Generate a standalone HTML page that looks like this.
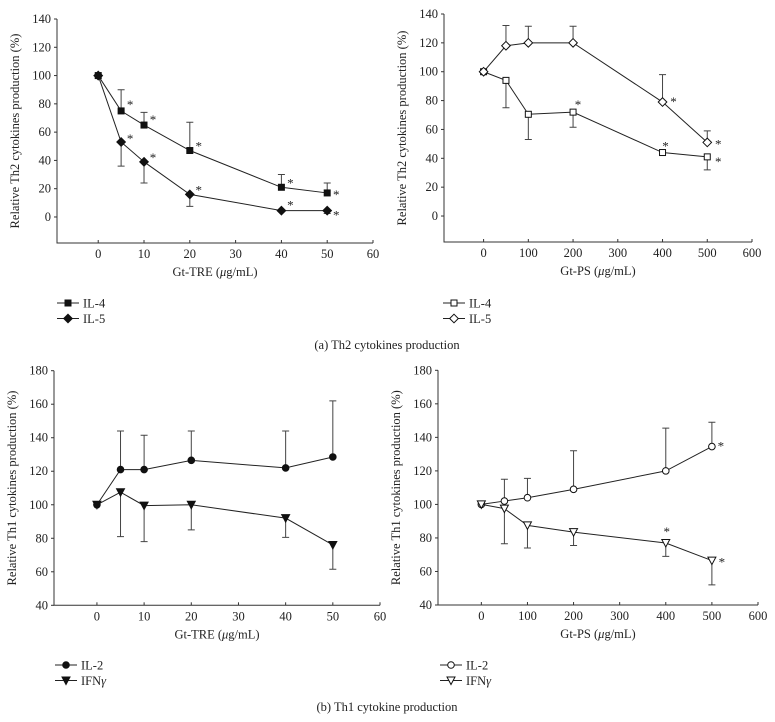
<!DOCTYPE html>
<html><head><meta charset="utf-8"><style>
body{margin:0;background:#fff}
svg{display:block;font-family:"Liberation Serif",serif}
</style></head><body>
<svg id="c" width="775" height="722" xmlns="http://www.w3.org/2000/svg"></svg>
<script>
const xTRE=[0,5,10,20,40,50];
const xPS=[0,50,100,200,400,500];
const a1IL4=[100,75,65,47,21,17];
const a1IL4Err=[null,90,74,67,30,24];
const a1IL5=[100,53,39,16,4.5,4.5];
const a1IL5Err=[null,36,24,7.5,null,2.5];
const a2IL4=[100,94,70.5,72,44,41];
const a2IL4Err=[null,75,53,61.5,null,32];
const a2IL5=[100,118,120,120,79,51];
const a2IL5Err=[null,132,131.5,131.5,98,59];
const b1IL2=[100,121,121,126.5,122,128.5];
const b1IL2Err=[null,144,141.5,144,144,162];
const b1IFN=[100,107.5,99.5,100,92,76];
const b1IFNErr=[null,81,78,85,80.5,61.5];
const b2IL2=[100,102,104,109,120,134.5];
const b2IL2Err=[null,115,115.5,132,145.5,149];
const b2IFN=[100,97.5,87.5,83.5,77,66.5];
const b2IFNErr=[null,76.5,74,75.5,69,52];
const ticksTRE=[0,10,20,30,40,50,60];
const ticksPS=[0,100,200,300,400,500,600];
const yTicksA=[0,20,40,60,80,100,120,140];
const yTicksB=[40,60,80,100,120,140,160,180];
const a1IL4Star=[0,1,1,1,1,1], a1IL5Star=[0,1,1,1,1,1];
const a2IL4Star=[0,0,0,1,1,1], a2IL5Star=[0,0,0,0,1,1];
const b1IL2Star=[0,0,0,0,0,0], b1IFNStar=[0,0,0,0,0,0];
const b2IL2Star=[0,0,0,0,0,1], b2IFNStar=[0,0,0,0,1,1];

const svg=document.getElementById('c');
const NS='http://www.w3.org/2000/svg';
function mk(tag,attrs,parent){const e=document.createElementNS(NS,tag);for(const k in attrs)e.setAttribute(k,attrs[k]);(parent||svg).appendChild(e);return e;}
function txt(s,x,y,size,anchor,parent){const t=mk('text',{x:x,y:y,'font-size':size,'text-anchor':anchor||'middle',fill:'#222'},parent);t.textContent=s;return t;}

function marker(g,shape,x,y){
  let m;
  if(shape==='sq'||shape==='osq'){m=mk('rect',{x:x-3,y:y-3,width:6,height:6,fill:shape==='sq'?'#111':'#fff',stroke:'#111','stroke-width':1},g);}
  else if(shape==='dia'||shape==='odia'){m=mk('polygon',{points:`${x},${y-4.3} ${x+4.3},${y} ${x},${y+4.3} ${x-4.3},${y}`,fill:shape==='dia'?'#111':'#fff',stroke:'#111','stroke-width':1},g);}
  else if(shape==='dot'||shape==='odot'){m=mk('circle',{cx:x,cy:y,r:3.3,fill:shape==='dot'?'#111':'#fff',stroke:'#111','stroke-width':1},g);}
  else {m=mk('polygon',{points:`${x-4},${y-3.5} ${x+4},${y-3.5} ${x},${y+4}`,fill:shape==='tri'?'#111':'#fff',stroke:'#111','stroke-width':1},g);}
  
  
}

function panel(cfg){
  const g=mk('g',{});
  
  
  const {L,R,T,B,xmin,xmax,ymin,ymax}=cfg;
  const sx=v=>L+(v-xmin)/(xmax-xmin)*(R-L);
  const sy=v=>B-(v-ymin)/(ymax-ymin)*(B-T);
  const ax=mk('path',{d:`M${L},${T} L${L},${B} L${R},${B}`,fill:'none',stroke:'#333','stroke-width':1},g);
  
  
  cfg.yTicks.forEach(v=>{const y=sy(v);mk('line',{x1:L-3,x2:L,y1:y,y2:y,stroke:'#333'},g);const t=txt(String(v),L-6,y+4,12.5,'end',g);});
  cfg.xTicks.forEach(v=>{const x=sx(v);mk('line',{x1:x,x2:x,y1:B,y2:B-3,stroke:'#333'},g);const t=txt(String(v),x,B+15,12.5,'middle',g);});
  const xt=txt('',(L+R)/2,B+33,12.5,'middle',g);
  xt.innerHTML=cfg.xTitle;
  
  const yt=txt(cfg.yTitle,0,0,12.5,'middle',g);
  yt.setAttribute('transform',`translate(${L-38},${(T+B)/2}) rotate(-90)`);
  
  cfg.series.forEach((s,si)=>{
    const sg=mk('g',{},g);
    
    
    cfg.x.forEach((xv,i)=>{
      if(s.err[i]!=null){const x=sx(xv);const l=mk('path',{d:`M${x},${sy(s.y[i])} L${x},${sy(s.err[i])} M${x-3.5},${sy(s.err[i])} L${x+3.5},${sy(s.err[i])}`,stroke:'#444','stroke-width':1,fill:'none'},sg);}
    });
    const pl=mk('polyline',{points:cfg.x.map((xv,i)=>sx(xv)+','+sy(s.y[i])).join(' '),fill:'none',stroke:'#222','stroke-width':1},sg);
    
    cfg.x.forEach((xv,i)=>marker(sg,s.shape,sx(xv),sy(s.y[i])));
    cfg.x.forEach((xv,i)=>{if(s.star[i]){const dy=(s.starDy&&s.starDy[i]!=null)?s.starDy[i]:-2;const dx=(s.starDx&&s.starDx[i]!=null)?s.starDx[i]:9;const t=txt('*',sx(xv)+dx,sy(s.y[i])+dy+6,13,'middle',sg);}});
    const ly=cfg.legY+si*15.5;
    const lg=mk('g',{},g);
    
    mk('line',{x1:cfg.legX,x2:cfg.legX+22,y1:ly,y2:ly,stroke:'#222'},lg);
    marker(lg,s.shape,cfg.legX+11,ly);
    txt(s.label,cfg.legX+26,ly+4.5,12.5,'start',lg).innerHTML=s.labelHtml||s.label;
  });
}
const yTh2='Relative Th2 cytokines production (%)';
const yTh1='Relative Th1 cytokines production (%)';
const xTitleTRE='Gt-TRE (<tspan font-style="italic">μ</tspan>g/mL)';
const xTitlePS='Gt-PS (<tspan font-style="italic">μ</tspan>g/mL)';
panel({name:'chart-th2-gt-tre',L:57,R:373,T:19,B:243,xmin:-9,xmax:60,ymin:-18.4,ymax:140,x:xTRE,xTicks:ticksTRE,yTicks:yTicksA,xTitle:xTitleTRE,yTitle:yTh2,legX:57,legY:303,
 series:[{label:'IL-4',shape:'sq',y:a1IL4,err:a1IL4Err,star:a1IL4Star,starDy:[0,-8,-7,-6,-6,0]},{label:'IL-5',shape:'dia',y:a1IL5,err:a1IL5Err,star:a1IL5Star,starDy:[0,-5,-6,-6,-7,3]}]});
panel({name:'chart-th2-gt-ps',L:444,R:752,T:14,B:242,xmin:-88.5,xmax:600,ymin:-18,ymax:140,x:xPS,xTicks:ticksPS,yTicks:yTicksA,xTitle:xTitlePS,yTitle:yTh2,legX:443,legY:303,
 series:[{label:'IL-4',shape:'osq',y:a2IL4,err:a2IL4Err,star:a2IL4Star,starDy:[0,0,0,-9,-8,3],starDx:[9,9,9,5,3,11]},{label:'IL-5',shape:'odia',y:a2IL5,err:a2IL5Err,star:a2IL5Star,starDy:[0,0,0,0,-2,0],starDx:[9,9,9,9,11,11]}]});
panel({name:'chart-th1-gt-tre',L:54,R:380,T:370.7,B:605.3,xmin:-9.1,xmax:60,ymin:40,ymax:180,x:xTRE,xTicks:ticksTRE,yTicks:yTicksB,xTitle:xTitleTRE,yTitle:yTh1,legX:55,legY:665,
 series:[{label:'IL-2',shape:'dot',y:b1IL2,err:b1IL2Err,star:b1IL2Star},{label:'IFNγ',labelHtml:'IFN<tspan font-style="italic">γ</tspan>',shape:'tri',y:b1IFN,err:b1IFNErr,star:b1IFNStar}]});
panel({name:'chart-th1-gt-ps',L:438,R:758,T:370.3,B:605,xmin:-94,xmax:600,ymin:40,ymax:180,x:xPS,xTicks:ticksPS,yTicks:yTicksB,xTitle:xTitlePS,yTitle:yTh1,legX:440,legY:665,
 series:[{label:'IL-2',shape:'odot',y:b2IL2,err:b2IL2Err,star:b2IL2Star},{label:'IFNγ',labelHtml:'IFN<tspan font-style="italic">γ</tspan>',shape:'otri',y:b2IFN,err:b2IFNErr,star:b2IFNStar,starDy:[0,0,0,0,-13,0],starDx:[9,9,9,9,1,10]}]});
const c1=txt('(a)  Th2 cytokines production',387,349,12.5,'middle');

const c2=txt('(b)  Th1 cytokine production',387,711,12.5,'middle');

</script>
</body></html>
